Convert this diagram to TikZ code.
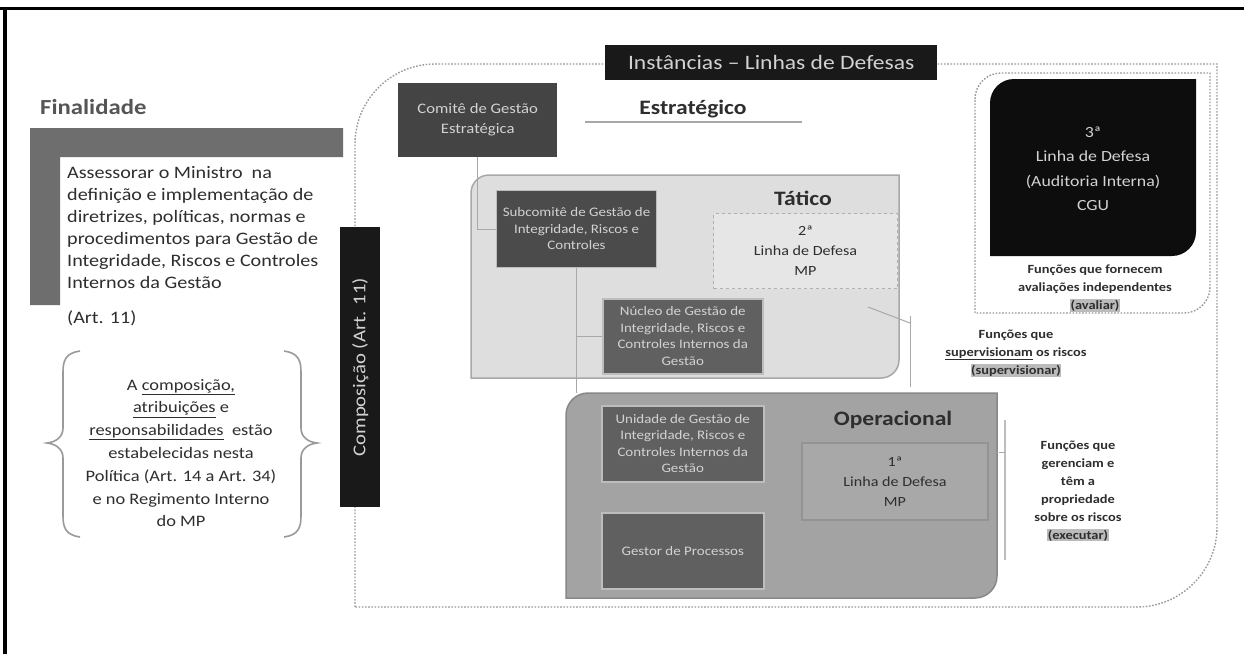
\documentclass[tikz,border=0pt]{standalone}
\usepackage{fontspec}
\setmainfont[FakeStretch=1.15]{Carlito}
\definecolor{lshape}{HTML}{6E6E6E}
\definecolor{darkbox}{HTML}{444444}
\definecolor{subbox}{HTML}{4B4B4B}
\definecolor{midbox}{HTML}{606060}
\definecolor{midline}{HTML}{BDBDBD}
\definecolor{tatfill}{HTML}{DEDEDE}
\definecolor{tatline}{HTML}{A8A8A8}
\definecolor{segfill}{HTML}{E6E6E6}
\definecolor{segline}{HTML}{B0B0B0}
\definecolor{opfill}{HTML}{A3A3A3}
\definecolor{opline}{HTML}{888888}
\definecolor{prifill}{HTML}{A8A8A8}
\definecolor{priline}{HTML}{939393}
\definecolor{boxtext}{HTML}{D2D2D2}
\definecolor{dotline}{HTML}{9A9A9A}
\definecolor{darktext}{HTML}{2E2E2E}
\definecolor{graytext}{HTML}{555555}
\definecolor{hlgray}{HTML}{BBBBBB}
\newcommand\hlgr[1]{{\setlength\fboxsep{0.5pt}\colorbox{hlgray}{#1}}}
\newcommand\tlbrpath[6]{%
  \path[#1] (#2,#3+#6) .. controls (#2,#3+0.448*#6) and (#2+0.448*#6,#3) .. (#2+#6,#3)
    -- (#4,#3) -- (#4,#5-#6) .. controls (#4,#5-0.448*#6) and (#4-0.448*#6,#5) .. (#4-#6,#5)
    -- (#2,#5) -- cycle;}
\tikzset{
  boxA/.style={fill=darkbox, text=boxtext, align=center, inner sep=0pt, anchor=north west},
  boxB/.style={fill=midbox, draw=midline, line width=1.5pt, text=boxtext, align=center, inner sep=0pt, anchor=north west},
  linebox/.style={align=center, inner sep=0pt, anchor=north west, text=darktext},
  conn/.style={draw=tatline, line width=1pt},
  dotted box/.style={draw=dotline, line width=1.4pt, dash pattern=on 1.6pt off 1.6pt},
  label/.style={align=center, inner sep=0pt, text=darktext},
  fn/.style={align=center, inner sep=0pt, text=darktext, font=\fontsize{12.5}{18}\selectfont\bfseries},
}
\begin{document}
\begin{tikzpicture}[x=1pt,y=-1pt]
\useasboundingbox (0,0) rectangle (1244,654);
\fill[white] (0,0) rectangle (1244,654);
% frame
\draw[line width=3pt] (0,8.5) -- (1244,8.5);
\draw[line width=4pt] (5,7) -- (5,654);

% Finalidade
\node[anchor=west, inner sep=0pt, text=graytext, font=\fontsize{21.5}{24}\selectfont\bfseries] (fin) at (40,107) {Finalidade};
\fill[lshape] (30,128) -- (343,128) -- (343,157) -- (60,157) -- (60,305) -- (30,305) -- cycle;
\node[anchor=north west, inner sep=0pt, align=left, text=darktext, font=\fontsize{17.5}{22}\selectfont] (assess) at (67,166)
 {Assessorar o Ministro~ na\\definição e implementação de\\diretrizes, políticas, normas e\\procedimentos para Gestão de\\Integridade, Riscos e Controles\\Internos da Gestão};
\node[anchor=west, inner sep=0pt, text=darktext, font=\fontsize{17.5}{22}\selectfont] (art) at (67,318) {(Art. 11)};

% braces
\draw[draw=dotline, line width=1.6pt] (80,351) .. controls (66,353) and (63,360) .. (63,372) -- (63,428)
  .. controls (63,437) and (56,442) .. (47,443) .. controls (56,444) and (63,449) .. (63,458) -- (63,516)
  .. controls (63,528) and (66,535) .. (80,537);
\draw[draw=dotline, line width=1.6pt] (284,351) .. controls (298,353) and (301,360) .. (301,372) -- (301,428)
  .. controls (301,437) and (308,442) .. (317,443) .. controls (308,444) and (301,449) .. (301,458) -- (301,516)
  .. controls (301,528) and (298,535) .. (284,537);
\node[label, font=\fontsize{16}{22.8}\selectfont] (brtext) at (181,453)
 {A \underline{composição,}\\\underline{atribuições} e\\\underline{responsabilidades}~ estão\\estabelecidas nesta\\Política (Art. 14 a Art. 34)\\e no Regimento Interno\\do MP};

% big dotted container
\path[dotted box] (355,607) -- (355,144) .. controls (355,100) and (391,64) .. (435,64) -- (1217,64)
  -- (1217,527) .. controls (1217,571) and (1181,607) .. (1137,607) -- cycle;

% Composicao bar
\node[fill=black!90, minimum width=40pt, minimum height=280pt, inner sep=0pt, anchor=north west] (compbar) at (340,227) {};
\node[rotate=90, text=boxtext, inner sep=0pt, font=\fontsize{18}{20}\selectfont] (comptext) at (compbar.center) {Composição (Art. 11)};

% title
\node[fill=black!90, text=boxtext, minimum width=332pt, minimum height=35pt, inner sep=0pt, anchor=north west, font=\fontsize{20.5}{22}\selectfont] (title) at (605,45) {Instâncias – Linhas de Defesas};

% Estrategico
\node[boxA, minimum width=159pt, minimum height=74pt, font=\fontsize{14.5}{20}\selectfont] (comite) at (398,83) {Comitê de Gestão\\Estratégica};
\node[label, font=\fontsize{20.5}{22}\selectfont\bfseries] (estr) at (693,109) {Estratégico};
\coordinate (ulA) at (585,122);
\coordinate (ulB) at (802,122);
\draw[draw=tatline, line width=2pt] (ulA) -- (ulB);

% Tatico
\tlbrpath{fill=tatfill, draw=tatline, line width=1.5pt}{471}{175}{899}{378}{18}
\node[label, font=\fontsize{20.5}{22}\selectfont\bfseries] (tatico) at (803,198) {Tático};
\node[boxA, fill=subbox, draw=midline, line width=1pt, minimum width=160pt, minimum height=77pt, font=\fontsize{13}{16.5}\selectfont] (subcomite) at (496,190) {Subcomitê de Gestão de\\Integridade, Riscos e\\Controles};
\node[linebox, fill=segfill, draw=segline, dashed, line width=1pt, minimum width=184pt, minimum height=75pt, font=\fontsize{14}{20}\selectfont] (seg) at (713,213) {2ª\\Linha de Defesa\\MP};
\node[boxB, minimum width=160pt, minimum height=75pt, font=\fontsize{13}{16.5}\selectfont] (nucleo) at (602,298) {Núcleo de Gestão de\\Integridade, Riscos e\\Controles Internos da\\Gestão};

% Operacional
\tlbrpath{fill=opfill, draw=opline, line width=1.5pt}{566}{393}{997}{598}{22}
\coordinate (opertop) at (566,393);
\node[label, font=\fontsize{20.5}{22}\selectfont\bfseries] (operac) at (893,420) {Operacional};
\node[boxB, minimum width=162pt, minimum height=76pt, font=\fontsize{13}{16.5}\selectfont] (unidade) at (601,405) {Unidade de Gestão de\\Integridade, Riscos e\\Controles Internos da\\Gestão};
\node[boxB, minimum width=162pt, minimum height=76pt, font=\fontsize{13}{16.5}\selectfont] (gestor) at (601,512) {Gestor de Processos};
\node[linebox, fill=prifill, draw=priline, line width=2pt, minimum width=186pt, minimum height=77pt, font=\fontsize{14}{20}\selectfont] (pri) at (801,442) {1ª\\Linha de Defesa\\MP};

% connectors
\draw[conn] (comite.south) -- (comite.south |- subcomite.west) -- (subcomite.west);
\draw[conn] (subcomite.south) -- (subcomite.south |- opertop);
\draw[conn] (subcomite.south |- nucleo.west) -- (nucleo.west);

% right brackets
\coordinate (tbA) at (868,307);
\coordinate (tbB) at (910,323);
\coordinate (tbTop) at (910,316);
\coordinate (tbBot) at (910,387);
\draw[conn] (tbA) -- (tbB);
\draw[conn] (tbTop) -- (tbBot);
\coordinate (obTop) at (1005,420);
\coordinate (obBot) at (1005,560);
\coordinate (obTick) at (999,452);
\draw[draw=midline, line width=2pt] (obTop) -- (obBot);
\draw[conn] (obTick) -- (obTick -| obTop);

% 3a linha
\tlbrpath{dotted box}{975}{73}{1210}{313}{26}
\tlbrpath{fill=black!95}{990}{79}{1196}{256}{24}
\node[label, text=boxtext, font=\fontsize{15.5}{24.5}\selectfont] (ter) at (1093,169) {3ª\\Linha de Defesa\\(Auditoria Interna)\\CGU};
\node[fn] (fnA) at (1095,288) {Funções que fornecem\\avaliações independentes\\\hlgr{(avaliar)}};
\node[fn] (fnB) at (1016,353) {Funções que\\\underline{supervisionam} os riscos\\\hlgr{(supervisionar)}};
\node[fn] (fnC) at (1078,491) {Funções que\\gerenciam e\\têm a\\propriedade\\sobre os riscos\\\hlgr{(executar)}};
\end{tikzpicture}
\end{document}
